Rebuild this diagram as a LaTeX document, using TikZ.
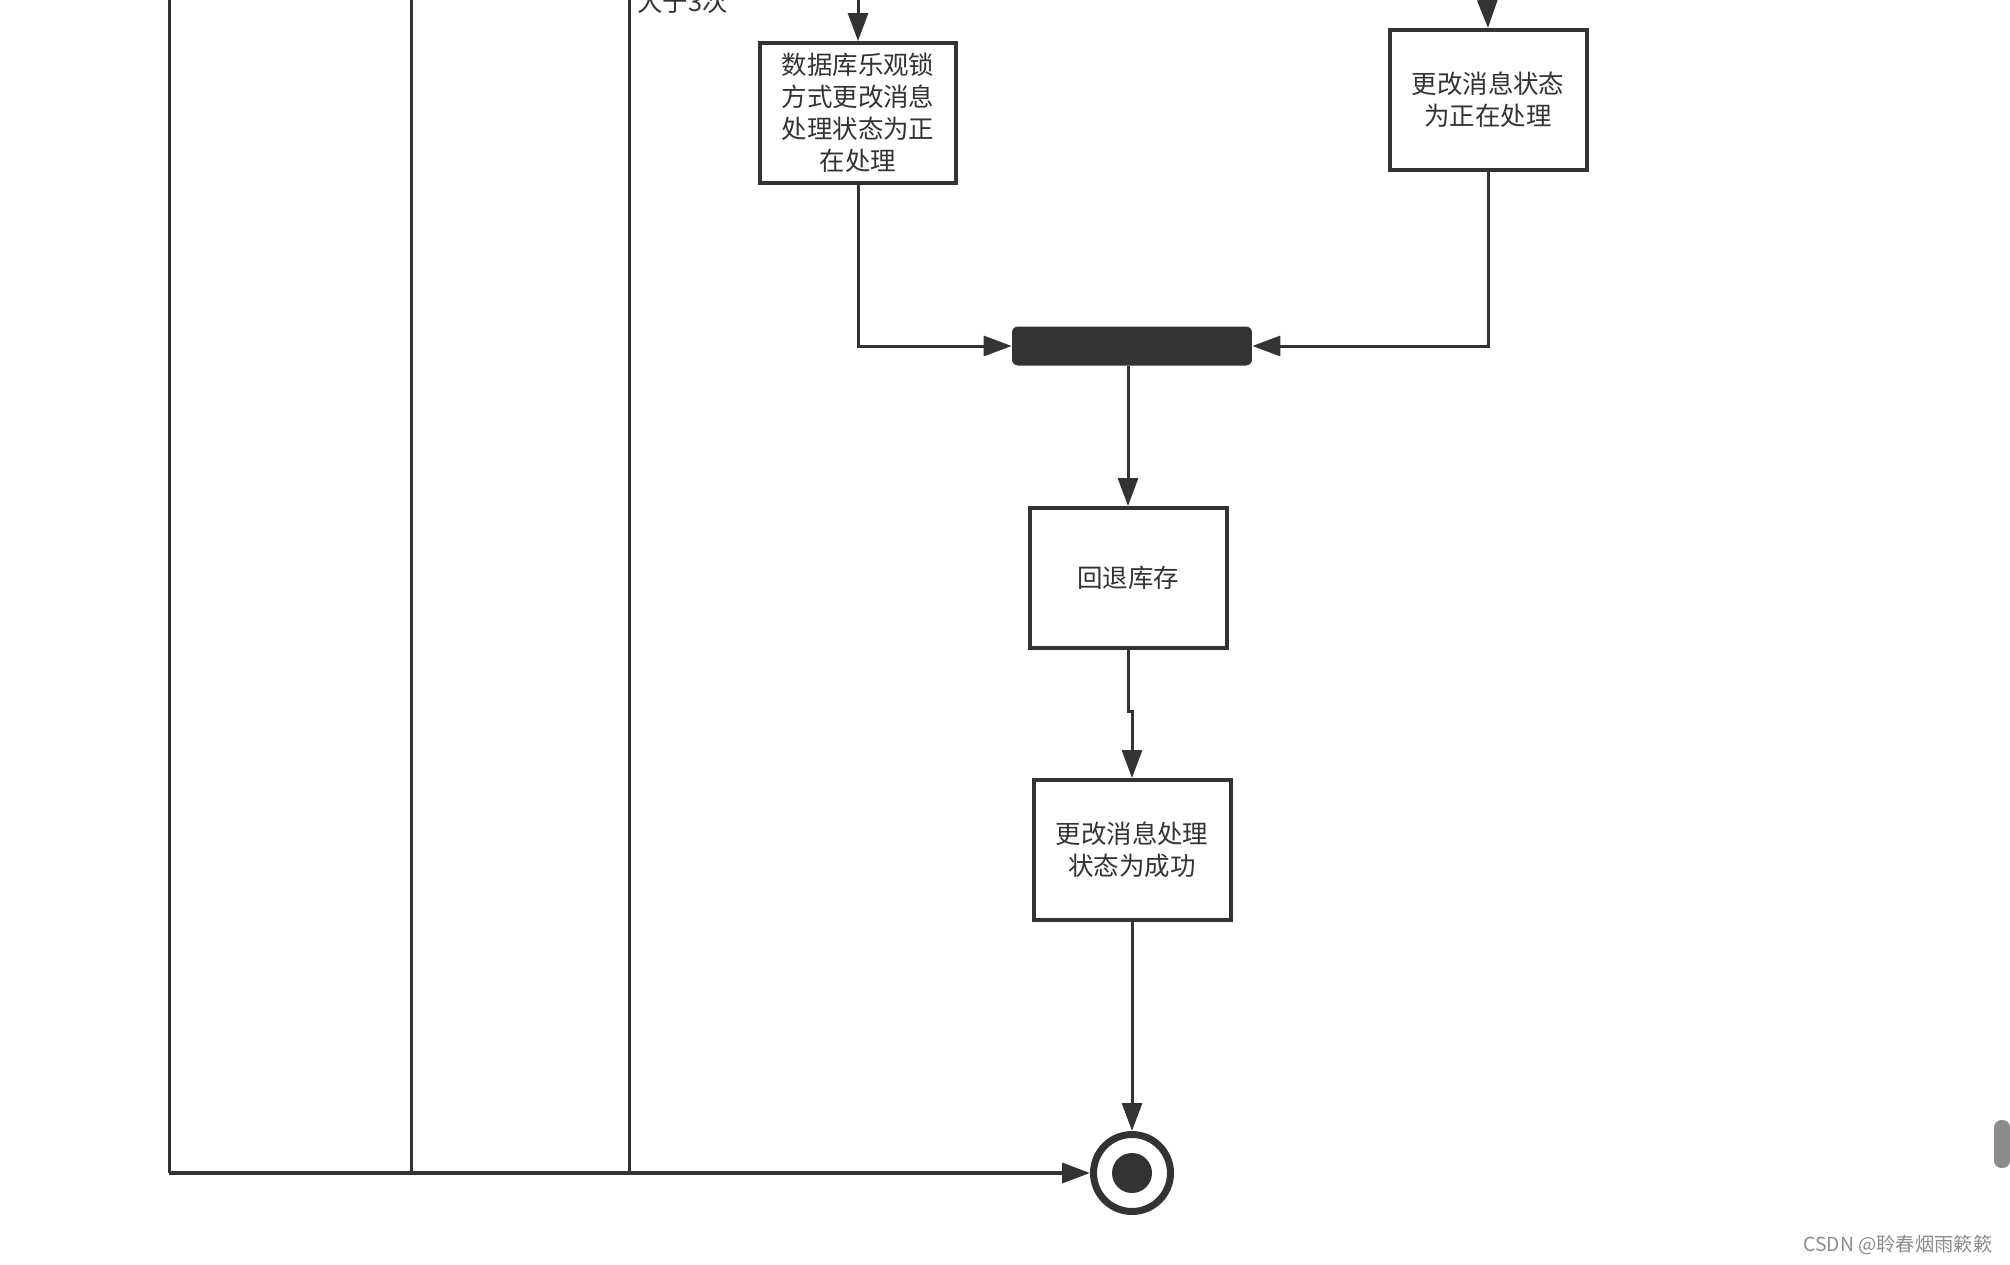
\documentclass[tikz,border=0pt]{standalone}
\usepackage{fontspec}
\newfontfamily\cjk{Noto Sans CJK SC}
\usetikzlibrary{arrows.meta}
\definecolor{dark}{HTML}{333333}
\definecolor{wmgray}{HTML}{8C8C8C}
\tikzset{
    box/.style={draw=dark, line width=0.08cm, minimum width=3.94cm, minimum height=2.8cm,
        inner sep=0pt, align=center, text=dark, font=\cjk\fontsize{14.5}{18.2}\selectfont},
    flow/.style={dark, line width=0.06cm, -{Triangle[length=0.56cm,width=0.4cm]}},
    lane/.style={dark, line width=0.06cm},
}
\begin{document}
\begin{tikzpicture}[x=0.02cm, y=-0.02cm]
    \useasboundingbox (0,0) rectangle (2010,1264);
    \clip (0,0) rectangle (2010,1264);
    \fill[white] (0,0) rectangle (2010,1264);

    \node[box] (lock) at (858,113) {数据库乐观锁\\方式更改消息\\处理状态为正\\在处理};
    \node[box] (busy) at (1488,100) {更改消息状态\\为正在处理};
    \node[fill=dark, rounded corners=0.12cm, minimum width=4.8cm, minimum height=0.78cm,
        inner sep=0pt] (join) at (1132,346) {};
    \node[box] (stock) at (1128,578) {回退库存};
    \node[box] (done) at (1132,850) {更改消息处理\\状态为成功};
    \node[draw=dark, circle, line width=0.14cm, minimum size=1.54cm, inner sep=0pt] (stop) at (1132,1173) {};
    \fill[dark] (stop.center) circle[radius=0.4cm];

    \node[anchor=west, inner sep=0pt, text=dark, font=\cjk\fontsize{14.5}{18.2}\selectfont] (more) at (637,2) {大于3次};

    \coordinate (inlock) at (858,-10);
    \coordinate (inbusy) at (1487,-10);
    \draw[flow] (inlock) -- (lock.north);
    \draw[flow] (inbusy) -- (busy.north);
    \draw[flow] (lock.south) |- (join.west);
    \draw[flow] (busy.south) |- (join.east);
    \draw[flow] (join.south -| stock.north) -- (stock.north);
    \draw[flow] (stock.south) -- ++(0,62) -| (done.north);
    \draw[flow] (done.south) -- (stop.north);

    \foreach \lx/\nm in {169/a, 411/b, 629/c} {
        \coordinate (lane\nm) at (\lx,1173);
        \draw[lane] (\lx,-10) -- (lane\nm);
    }
    \draw[flow, line width=0.07cm] (lanea) -- (stop.west);

    \fill[wmgray, rounded corners=0.15cm] (1994,1120) rectangle (2010,1168);
    \node[text=wmgray, inner sep=0pt, font=\cjk\fontsize{11}{13}\selectfont] (csdn) at (1898,1245) {CSDN @聆春烟雨簌簌};
\end{tikzpicture}
\end{document}
